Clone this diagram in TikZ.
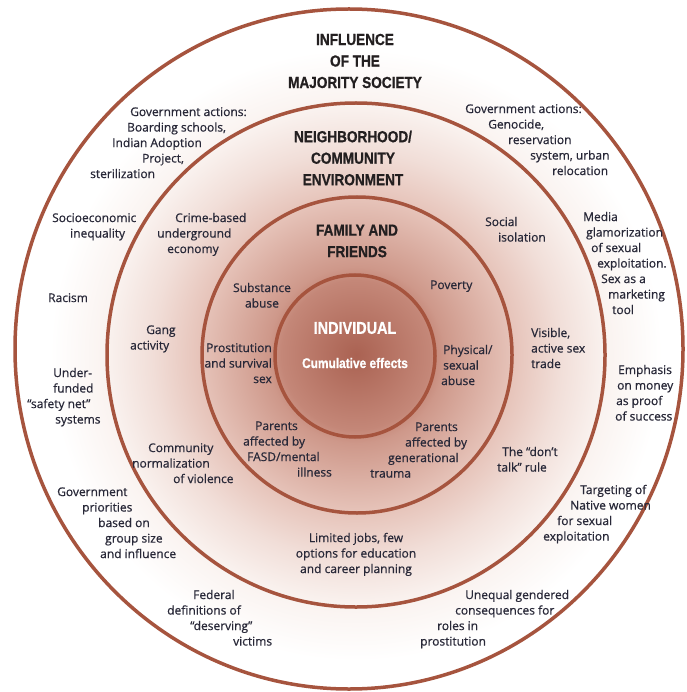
\documentclass[tikz,border=0pt]{standalone}
\usepackage{fontspec}
\setmainfont{Open Sans}
\newfontfamily\notefont{Open Sans}[FakeBold=0.7]
\newfontfamily\headfont[FakeStretch=0.85, FakeBold=0.8]{Liberation Sans}

\definecolor{ringbrown}{RGB}{166,84,62}
\definecolor{notetext}{RGB}{40,40,56}
\definecolor{headtext}{RGB}{35,31,32}
\definecolor{glowA}{RGB}{170,98,82}
\definecolor{glowB}{RGB}{196,135,120}
\definecolor{glowC}{RGB}{206,152,138}
\definecolor{glowD}{RGB}{230,195,185}
\definecolor{glowE}{RGB}{241,222,216}
\definecolor{glowF}{RGB}{250,243,240}
\pgfdeclareradialshading{glow}{\pgfpoint{0bp}{0bp}}{%
    color(0bp)=(glowA); color(5.5bp)=(glowB); color(6.5bp)=(glowC);
    color(11.5bp)=(glowD); color(15bp)=(glowE); color(18.5bp)=(glowF);
    color(22.5bp)=(white); color(50bp)=(white)}

\newcommand{\ind}[1]{\hspace*{#1pt}}

\tikzstyle{ring} = [draw=ringbrown, line width=3.5pt]
\tikzstyle{heading} = [
    align=center,
    inner sep=0pt,
    text=headtext,
    font=\headfont\bfseries\fontsize{16}{21.5}\selectfont
]
\tikzstyle{coretitle} = [
    inner sep=0pt,
    text=white,
    font=\headfont\bfseries\fontsize{17}{20}\selectfont
]
\tikzstyle{coresub} = [
    inner sep=0pt,
    text=white,
    font=\headfont\bfseries\fontsize{14}{17}\selectfont
]
\tikzstyle{note} = [
    align=left,
    anchor=north west,
    inner sep=0pt,
    text=notetext,
    font=\notefont\fontsize{12}{15.5}\selectfont
]

\begin{document}
\begin{tikzpicture}[x=1pt, y=-1pt]
\useasboundingbox[fill=white] (0,0) rectangle (686,692);

% Shading
\begin{scope}
\clip (349,349) ellipse [x radius=334pt, y radius=340pt];
\shade[shading=glow] (356,355) circle (340pt);
\end{scope}

% Rings
\draw[ring] (349,349) ellipse [x radius=334pt, y radius=340pt];
\draw[ring] (356,355) ellipse [x radius=249pt, y radius=252pt];
\draw[ring] (357,355) ellipse [x radius=155pt, y radius=158pt];
\draw[ring] (355,356) ellipse [x radius=80pt, y radius=81pt];

% Headings
\node (majority) [heading] at (355,61) {INFLUENCE\\OF THE\\MAJORITY SOCIETY};
\node (neighborhood) [heading] at (353,158) {NEIGHBORHOOD/\\COMMUNITY\\ENVIRONMENT};
\node (family) [heading] at (357,241) {FAMILY AND\\FRIENDS};
\node (individual) [coretitle] at (355,328) {INDIVIDUAL};
\node (cumulative) [coresub] at (355,363) {Cumulative effects};

% Outer ring
\node (govleft) [note] at (90,105) {\strut\ind{40}Government actions:\\\ind{37}Boarding schools,\\\ind{22}Indian Adoption\\\ind{52}Project,\\sterilization};
\node (govright) [note] at (465,102) {\strut Government actions:\\\ind{23}Genocide,\\\ind{43}reservation\\\ind{65}system, urban\\\ind{87}relocation};
\node (socio) [note] at (52,211) {\strut Socioeconomic\\\ind{18}inequality};
\node (media) [note] at (583,210) {\strut Media\\\ind{3}glamorization\\\ind{8}of sexual\\\ind{14}exploitation.\\\ind{18}Sex as a\\\ind{25}marketing\\\ind{29}tool};
\node (racism) [note] at (48,291) {\strut Racism};
\node (underfunded) [note] at (27,366) {\strut\ind{26}Under-\\\ind{26}funded\\“safety net”\\\ind{28}systems};
\node (emphasis) [note] at (615,363) {\strut\ind{3}Emphasis\\\ind{2}on money\\\ind{1}as proof\\of success};
\node (govprio) [note] at (57,485) {\strut Government\\\ind{25}priorities\\\ind{41}based on\\\ind{48}group size\\\ind{43}and influence};
\node (targeting) [note] at (543,483) {\strut\ind{37}Targeting of\\\ind{27}Native women\\\ind{14}for sexual\\exploitation};
\node (federal) [note] at (167,588) {\strut\ind{26}Federal\\definitions of\\\ind{23}“deserving”\\\ind{66}victims};
\node (unequal) [note] at (420,588) {\strut\ind{45}Unequal gendered\\\ind{35}consequences for\\\ind{17}roles in\\prostitution};

% Neighborhood ring
\node (crime) [note] at (157,211) {\strut\ind{18}Crime-based\\underground\\\ind{10}economy};
\node (social) [note] at (485,215) {\strut Social\\\ind{13}isolation};
\node (gang) [note] at (130,323) {\strut\ind{16}Gang\\activity};
\node (visible) [note] at (531,326) {\strut Visible,\\active sex\\trade};
\node (community) [note] at (132,441) {\strut\ind{16}Community\\normalization\\\ind{41}of violence};
\node (donttalk) [note] at (497,445) {\strut\ind{5}The “don’t\\talk” rule};
\node (limited) [note, align=center, anchor=north] at (356,531) {\strut Limited jobs, few\\options for education\\and career planning};

% Family ring
\node (substance) [note, align=center, anchor=north] at (262,281) {\strut Substance\\abuse};
\node (poverty) [note] at (430,278) {\strut Poverty};
\node (prostitution) [note, align=right, anchor=north east] at (272,341) {\strut Prostitution\\and survival\\sex};
\node (physical) [note] at (441,343) {\strut\ind{2}Physical/\\\ind{2}sexual\\abuse};
\node (fasd) [note] at (243,419) {\strut\ind{12}Parents\\affected by\\\ind{4}FASD/mental\\\ind{54}illness};
\node (trauma) [note] at (370,420) {\strut\ind{45}Parents\\\ind{35}affected by\\\ind{18}generational\\trauma};

\end{tikzpicture}
\end{document}
